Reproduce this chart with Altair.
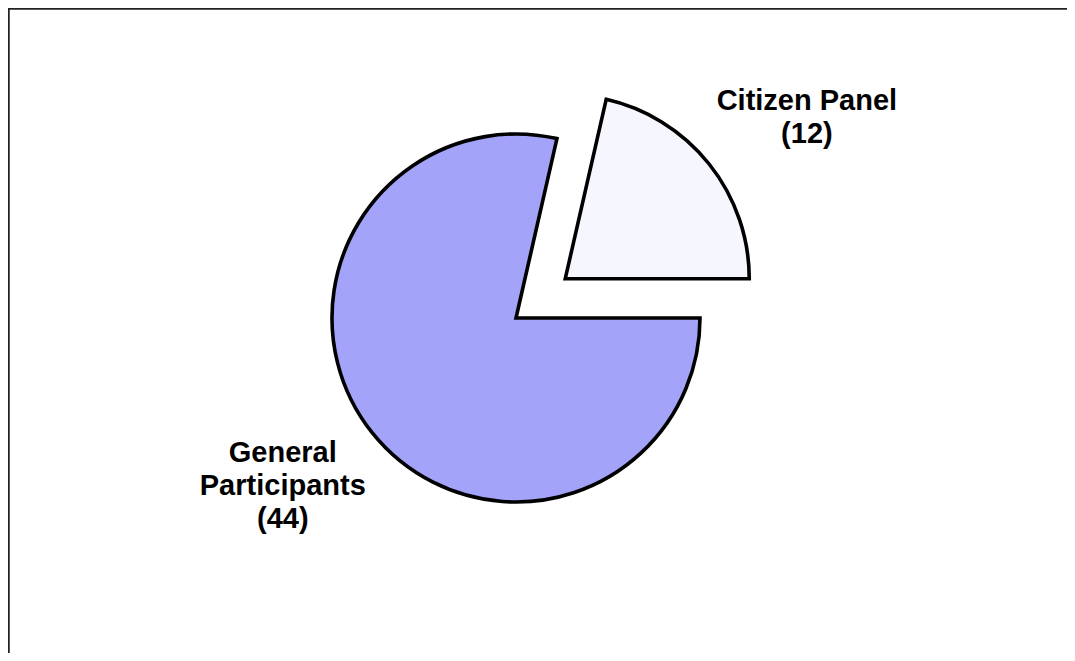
import math
import altair as alt
import pandas as pd

# ---- data ----
categories = ["Citizen Panel", "General Participants"]
display_names = ["Citizen Panel", "General\nParticipants"]
counts = [12, 44]
order = [0, 1]

df = pd.DataFrame({"category": categories, "name": display_names,
                   "count": counts, "order": order})

total = sum(counts)
# citizen slice ends at 3 o'clock
start = math.pi / 2 - 2 * math.pi * counts[0] / total
theta_scale = alt.Scale(domain=[0, total], range=[start, start + 2 * math.pi])

W, H = 1059, 645
CX, CY = 508, 310
R = 184
EXPLODE = 63
cit_mid = start + math.pi * counts[0] / total
EX = CX + EXPLODE * math.sin(cit_mid)
EY = CY - EXPLODE * math.cos(cit_mid)

FILL_GEN = "#a3a3fa"
FILL_CIT = "#f6f6fe"

base = alt.Chart(df).transform_stack(
    stack="count", groupby=[], as_=["s0", "s1"],
    sort=[alt.SortField("order", order="ascending")]
).transform_calculate(
    mid="(datum.s0 + datum.s1) / 2",
    label="datum.name + '\\n(' + datum.count + ')'"
)

arc_style = dict(stroke="black", strokeWidth=3.6, strokeJoin="miter")

arc_gen = base.transform_filter(alt.datum.order == 1).mark_arc(
    fill=FILL_GEN, **arc_style
).encode(
    theta=alt.Theta("s0:Q", scale=theta_scale),
    theta2="s1:Q",
    radius=alt.value(R),
    x=alt.value(CX), y=alt.value(CY),
)

arc_cit = base.transform_filter(alt.datum.order == 0).mark_arc(
    fill=FILL_CIT, **arc_style
).encode(
    theta=alt.Theta("s0:Q", scale=theta_scale),
    theta2="s1:Q",
    radius=alt.value(R),
    x=alt.value(EX), y=alt.value(EY),
)

txt_style = dict(font="Liberation Sans", fontWeight="bold", fontSize=29,
                 lineHeight=33, align="center", baseline="alphabetic",
                 lineBreak="\n", color="black")

txt_cit = base.transform_filter(alt.datum.order == 0).mark_text(
    dx=11, dy=15, **txt_style
).encode(
    theta=alt.Theta("mid:Q", scale=theta_scale),
    radius=alt.value(358),
    x=alt.value(CX), y=alt.value(CY),
    text="label:N",
)

txt_gen = base.transform_filter(alt.datum.order == 1).mark_text(
    dx=-19, dy=-27, **txt_style
).encode(
    theta=alt.Theta("mid:Q", scale=theta_scale),
    radius=alt.value(274),
    x=alt.value(CX), y=alt.value(CY),
    text="label:N",
)

frame_top = alt.Chart(df).mark_rule(color="#222222", strokeWidth=1.5).encode(
    x=alt.value(0), x2=alt.value(W), y=alt.value(0.75)
)
frame_left = alt.Chart(df).mark_rule(color="#222222", strokeWidth=1.5).encode(
    x=alt.value(0.75), y=alt.value(0), y2=alt.value(H)
)

chart = alt.layer(arc_gen, arc_cit, txt_cit, txt_gen, frame_top, frame_left).properties(
    width=W, height=H,
    autosize=alt.AutoSizeParams(type="none"),
    padding=0,
).configure_view(stroke=None).configure(background="white")

chart.save("out.html", embed_options={"renderer": "svg", "actions": False})
